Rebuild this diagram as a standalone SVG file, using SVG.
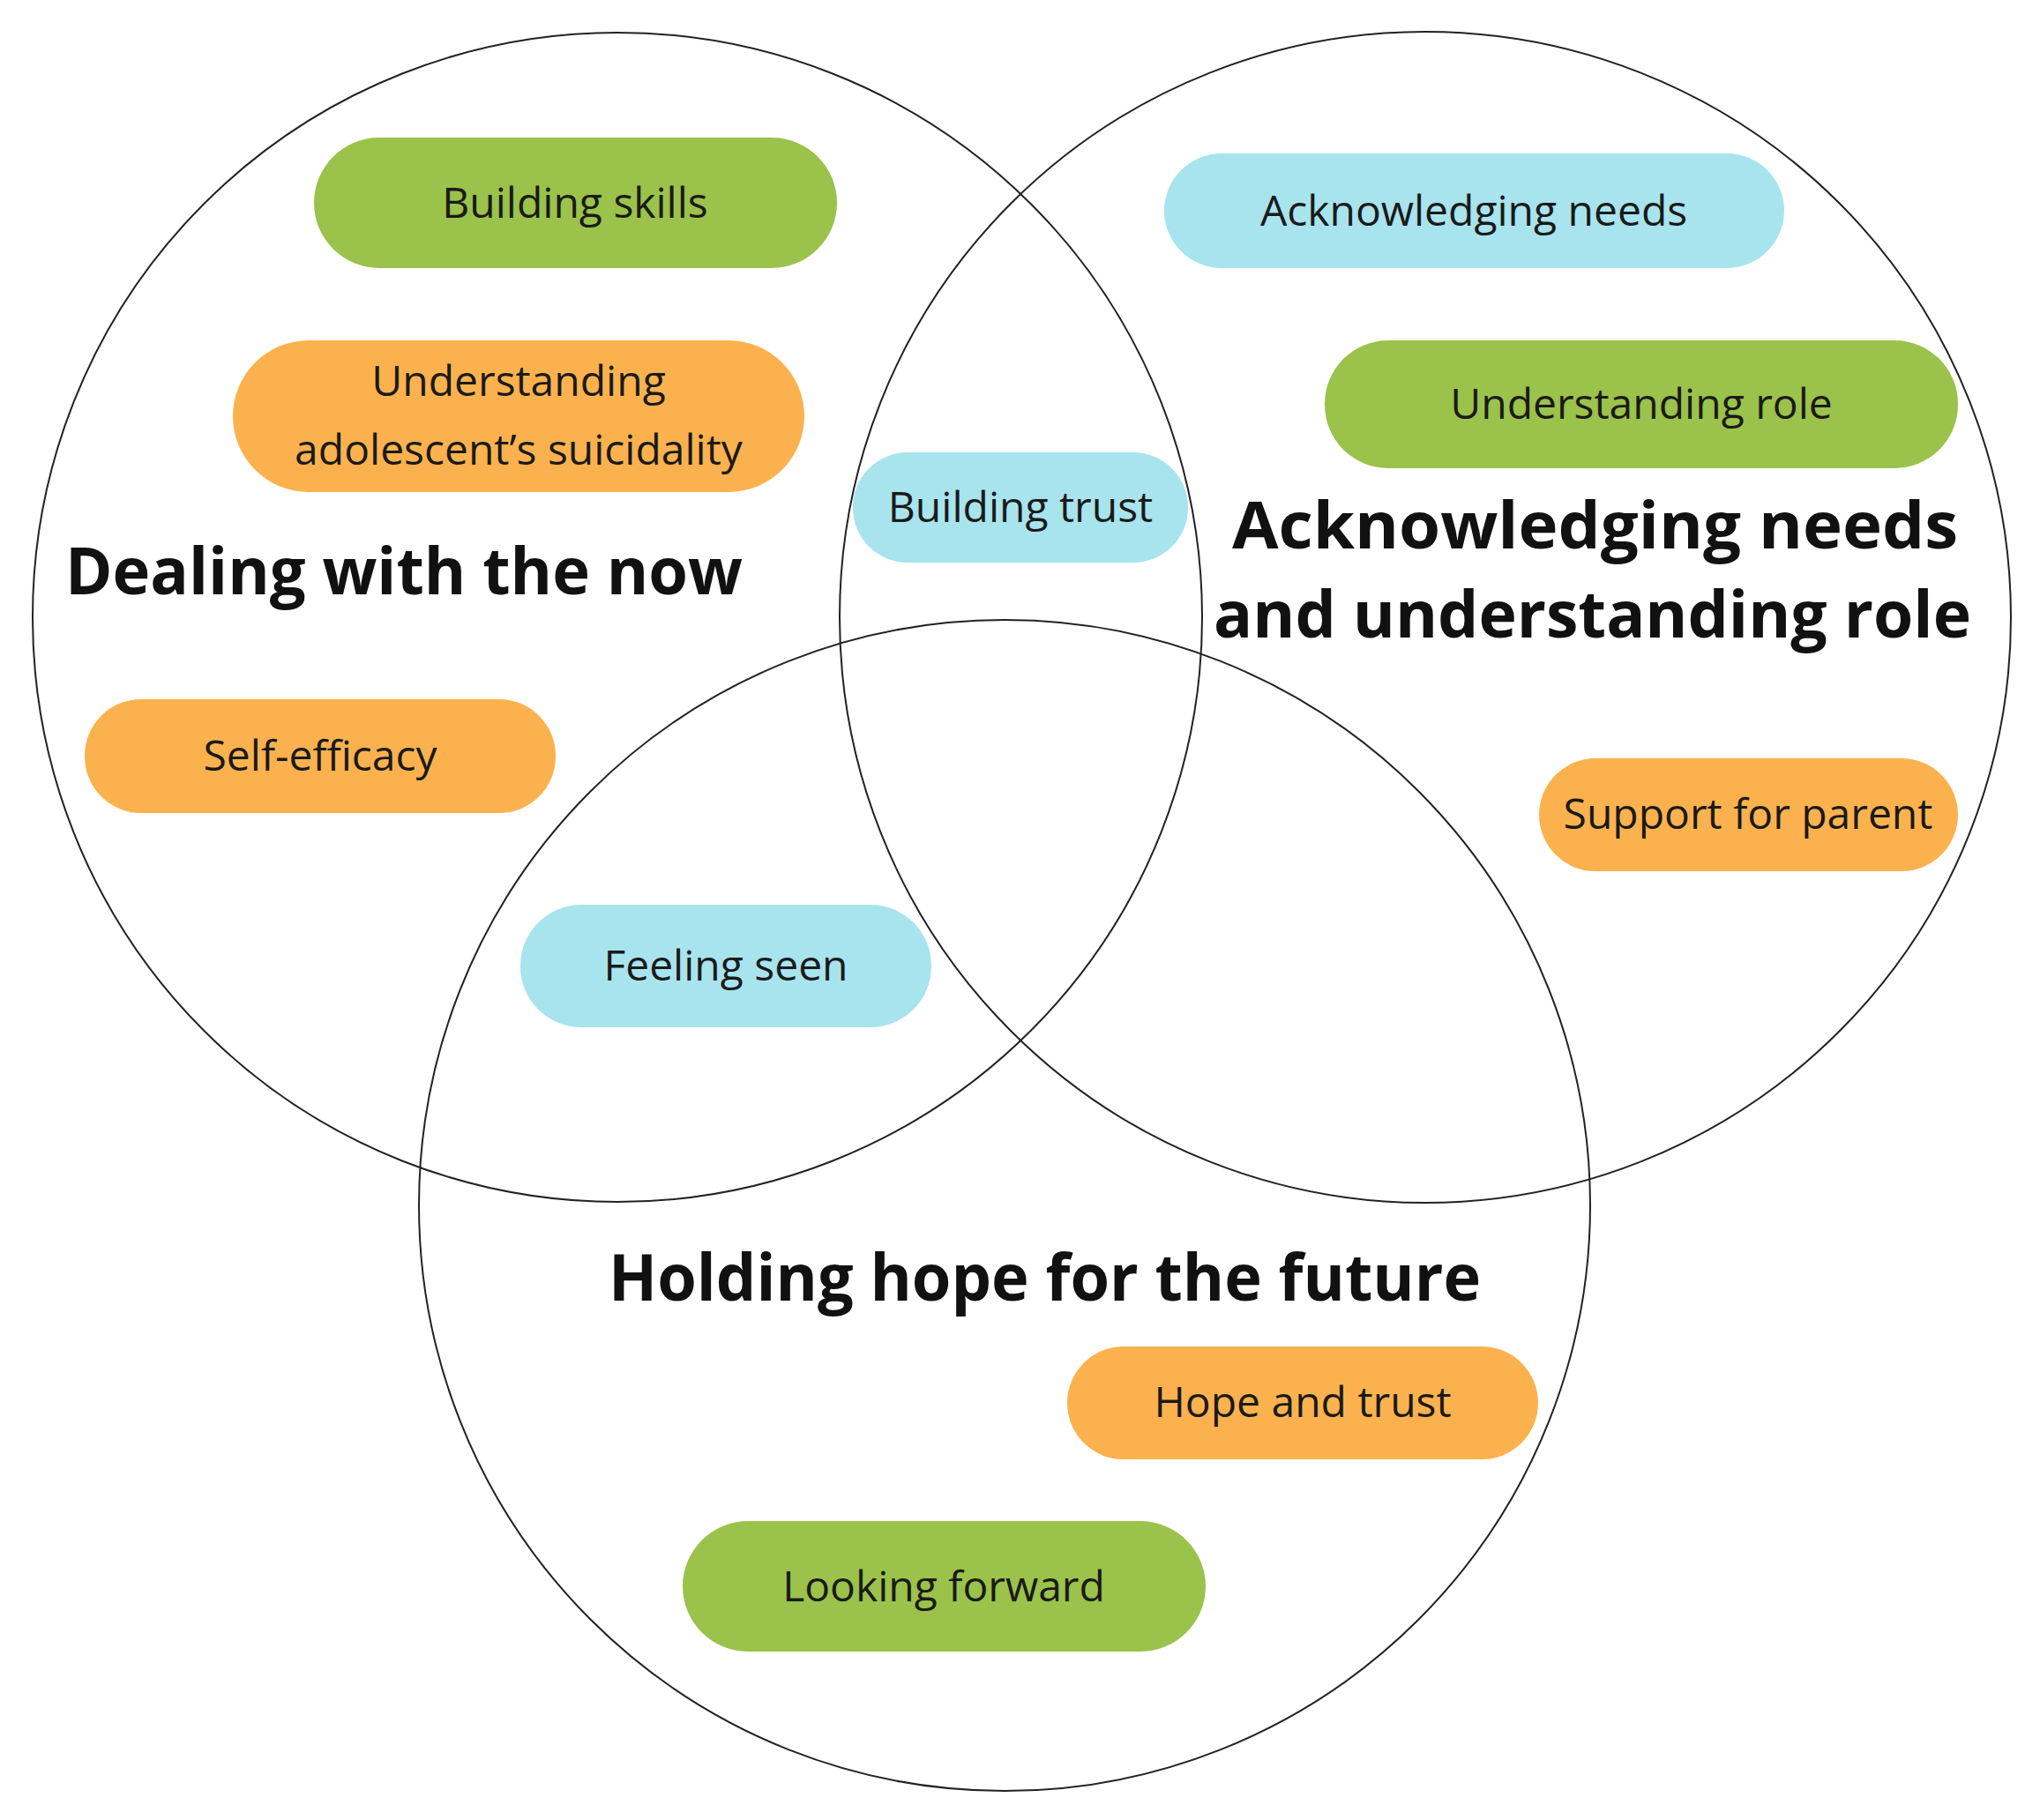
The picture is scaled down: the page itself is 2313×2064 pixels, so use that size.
<svg xmlns="http://www.w3.org/2000/svg" width="2313" height="2064" viewBox="0 0 2313 2064">
<style>
.c{fill:none;stroke:#222;stroke-width:2}
.g{fill:#9BC24A}.o{fill:#FBB24E}.b{fill:#A8E4EE}
.t{font-family:"Open Sans","Liberation Sans",sans-serif;font-size:48px;fill:#1a1a1a;text-anchor:middle}
.h{font-family:"Open Sans","Liberation Sans",sans-serif;font-size:74px;font-weight:bold;fill:#111}
</style>
<rect width="2313" height="2064" fill="#fff"/>
<g id="circles">
<circle class="c" cx="700" cy="700" r="663"/>
<circle class="c" cx="1616" cy="700" r="664"/>
<circle class="c" cx="1139" cy="1367" r="664"/>
</g>
<g id="n1"><rect class="g" x="356" y="156" width="593" height="148" rx="74"/><text class="t" x="652" y="247">Building skills</text></g>
<g id="n2"><rect class="o" x="264" y="386" width="648" height="172" rx="86"/><text class="t" x="588" y="449">Understanding</text><text class="t" x="588" y="527">adolescent’s suicidality</text></g>
<g id="n3"><rect class="b" x="967" y="513" width="380" height="125" rx="62"/><text class="t" x="1157" y="592">Building trust</text></g>
<g id="n4"><rect class="b" x="1320" y="174" width="703" height="130" rx="65"/><text class="t" x="1671" y="256">Acknowledging needs</text></g>
<g id="n5"><rect class="g" x="1502" y="386" width="718" height="145" rx="72"/><text class="t" x="1861" y="475">Understanding role</text></g>
<g id="n6"><rect class="o" x="96" y="793" width="534" height="129" rx="64"/><text class="t" x="363" y="874">Self-efficacy</text></g>
<g id="n7"><rect class="o" x="1745" y="860" width="475" height="128" rx="64"/><text class="t" x="1982" y="940">Support for parent</text></g>
<g id="n8"><rect class="b" x="590" y="1026" width="466" height="139" rx="69"/><text class="t" x="823" y="1112">Feeling seen</text></g>
<g id="n9"><rect class="o" x="1210" y="1527" width="534" height="128" rx="64"/><text class="t" x="1477" y="1607">Hope and trust</text></g>
<g id="n10"><rect class="g" x="774" y="1725" width="593" height="148" rx="74"/><text class="t" x="1070" y="1816">Looking forward</text></g>
<g id="labels">
<text class="h" x="74" y="674" textLength="768" lengthAdjust="spacingAndGlyphs">Dealing with the now</text>
<text class="h" x="1397" y="622" textLength="823" lengthAdjust="spacingAndGlyphs">Acknowledging needs</text>
<text class="h" x="1376" y="723" textLength="859" lengthAdjust="spacingAndGlyphs">and understanding role</text>
<text class="h" x="690" y="1475" textLength="989" lengthAdjust="spacingAndGlyphs">Holding hope for the future</text>
</g>
<g id="connectors"/>
</svg>
